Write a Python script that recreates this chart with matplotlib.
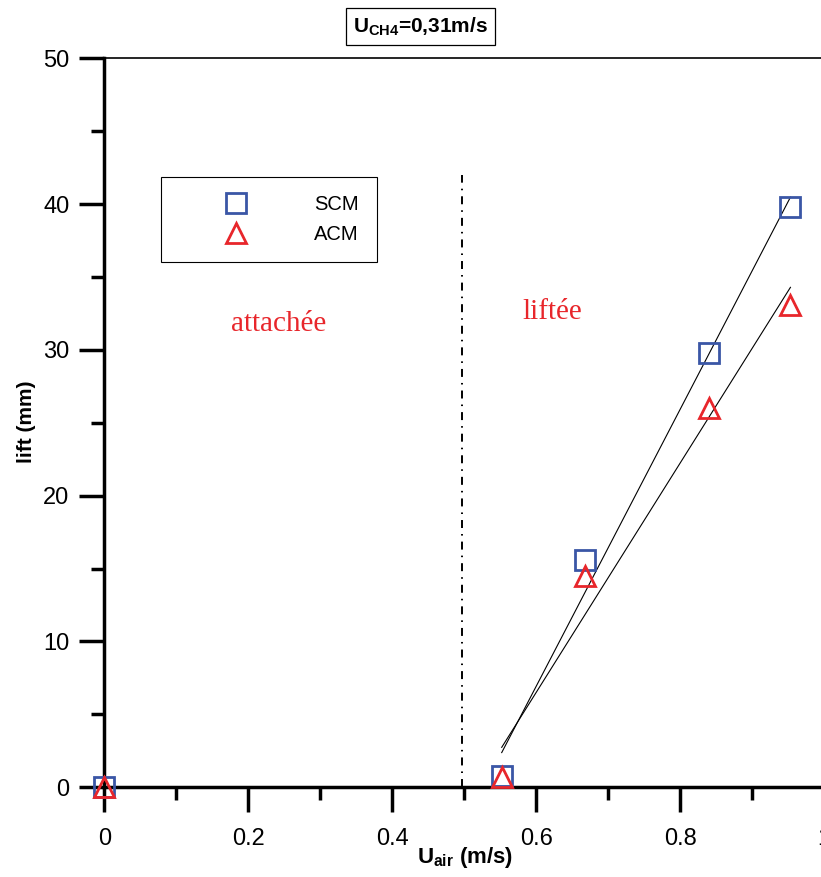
#!/usr/bin/env python3
"""Lift height vs air velocity (U_CH4 = 0,31 m/s), SCM vs ACM."""

import numpy as np
import matplotlib
matplotlib.use('Agg')
import matplotlib.pyplot as plt
from matplotlib.ticker import MultipleLocator, FixedLocator, FixedFormatter


# data
u_air = [0.0, 0.552, 0.668, 0.840, 0.953]
lift_scm = [0.0, 0.8, 15.6, 29.8, 39.8]
lift_acm = [0.0, 0.7, 14.5, 26.0, 33.1]

x_ticks = [0, 0.2, 0.4, 0.6, 0.8, 1.0]
x_tick_labels = ['0', '0.2', '0.4', '0.6', '0.8', '1']
y_ticks = [0, 10, 20, 30, 40, 50]

u_transition = 0.497   # attached / lifted boundary
transition_top = 42.0

BLUE = '#3a56a6'
RED = '#e8262b'

plt.rcParams['font.family'] = ['Liberation Sans', 'DejaVu Sans']
plt.rcParams['mathtext.fontset'] = 'custom'
plt.rcParams['mathtext.rm'] = 'Liberation Sans'
plt.rcParams['mathtext.bf'] = 'Liberation Sans:bold'


def lin_fit(x, y):
    """Least-squares line over the lifted points, drawn on their x span."""
    x = np.asarray(x)
    y = np.asarray(y)
    mask = x > u_transition
    a, b = np.polyfit(x[mask], y[mask], 1)
    xs = np.array([x[mask].min(), x[mask].max()])
    return xs, a * xs + b


fig = plt.figure(figsize=(8.21, 8.77), dpi=100)
ax = fig.add_axes([0.127, 0.1023, 0.877, 0.8312])

# regression lines
for ys in (lift_scm, lift_acm):
    fx, fy = lin_fit(u_air, ys)
    ax.plot(fx, fy, color='black', lw=0.8, zorder=2)

# boundary between attached and lifted flame
ax.plot([u_transition, u_transition], [0, transition_top], color='black',
        lw=1.4, linestyle=(0, (4.1, 3.1, 0.8, 3.1)), zorder=1)

h_scm, = ax.plot(u_air, lift_scm, linestyle='none', marker='s', ms=15,
                 mfc='none', mec=BLUE, mew=2.0, clip_on=False, zorder=4,
                 label='SCM')
h_acm, = ax.plot(u_air, lift_acm, linestyle='none', marker='^', ms=15,
                 mfc='none', mec=RED, mew=2.0, clip_on=False, zorder=5,
                 label='ACM')

ax.set_xlim(0, 1)
ax.set_ylim(0, 50)

ax.xaxis.set_major_locator(FixedLocator(x_ticks))
ax.xaxis.set_major_formatter(FixedFormatter(x_tick_labels))
ax.xaxis.set_minor_locator(MultipleLocator(0.1))
ax.yaxis.set_major_locator(FixedLocator(y_ticks))
ax.yaxis.set_minor_locator(MultipleLocator(5))

ax.tick_params(axis='both', which='major', direction='out', length=18,
               width=2.5, labelsize=17)
ax.tick_params(axis='both', which='minor', direction='out', length=9.5,
               width=2.5)
ax.tick_params(axis='x', which='major', pad=11)
ax.tick_params(axis='y', which='major', pad=7)

ax.spines['left'].set_linewidth(2.5)
ax.spines['bottom'].set_linewidth(2.5)
ax.spines['top'].set_linewidth(1.2)
ax.spines['right'].set_visible(False)

ax.set_xlabel(r'U$_{\mathbf{air}}$ (m/s)', fontsize=16, fontweight='bold')
ax.xaxis.set_label_coords(0.501, -0.096)
ax.xaxis.label.set_va('center')
ax.set_ylabel('lift (mm)', fontsize=15, fontweight='bold')
ax.yaxis.set_label_coords(-0.108, 0.502)
ax.yaxis.label.set_va('center')

# regime annotations
ax.text(0.242, 31.8, 'attachée', color=RED, fontsize=21,
        family='Liberation Serif', ha='center', va='center')
ax.text(0.622, 32.6, 'liftée', color=RED, fontsize=21,
        family='Liberation Serif', ha='center', va='center')

leg = ax.legend(handles=[h_scm, h_acm], loc='upper left',
                bbox_to_anchor=(0.0788, 0.837), borderaxespad=0,
                fontsize=14.5, frameon=True, fancybox=False, framealpha=1,
                edgecolor='black', borderpad=0.9, handlelength=5.6,
                handletextpad=1.1, labelspacing=0.55, numpoints=1)
leg.get_frame().set_linewidth(0.8)

fig.text(0.512, 0.970, r'U$_{\mathbf{CH4}}$=0,31m/s', fontsize=15,
         fontweight='bold', ha='center', va='center',
         bbox=dict(boxstyle='square,pad=0.35', fc='white', ec='black', lw=0.9))

fig.savefig('out.png', dpi=100)
